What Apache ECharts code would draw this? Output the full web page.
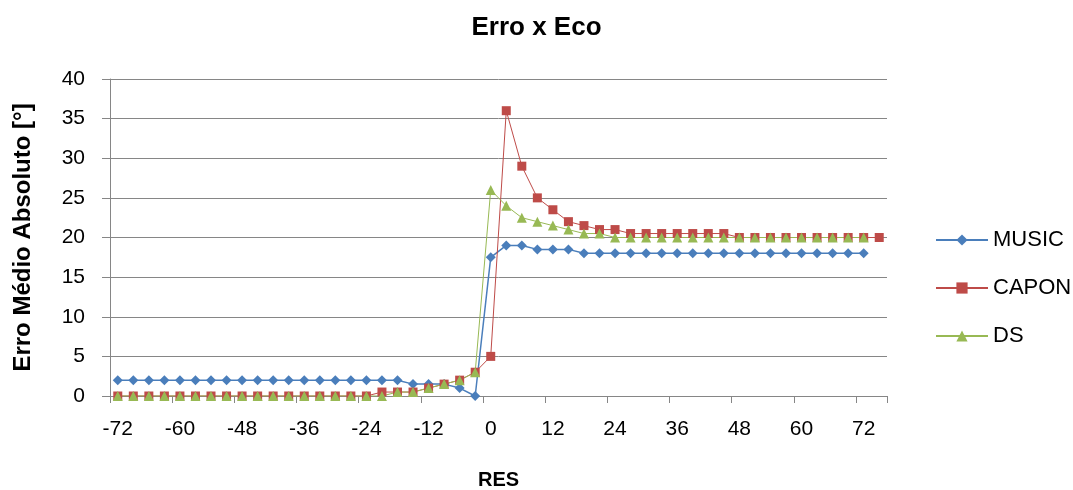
<!DOCTYPE html>
<html>
<head>
<meta charset="utf-8">
<script src="https://cdn.jsdelivr.net/npm/echarts@6/dist/echarts.min.js"></script>
<style>
html,body{margin:0;padding:0;background:#fff;}
#chart{width:1073px;height:490px;}
</style>
</head>
<body>
<div id="chart"></div>
<script>
var categories = [-72,-69,-66,-63,-60,-57,-54,-51,-48,-45,-42,-39,-36,-33,-30,-27,-24,-21,-18,-15,-12,-9,-6,-3,0,3,6,9,12,15,18,21,24,27,30,33,36,39,42,45,48,51,54,57,60,63,66,69,72,75];
var music = [2,2,2,2,2,2,2,2,2,2,2,2,2,2,2,2,2,2,2,1.5,1.5,1.5,1,0,17.5,19,19,18.5,18.5,18.5,18,18,18,18,18,18,18,18,18,18,18,18,18,18,18,18,18,18,18,null];
var capon = [0,0,0,0,0,0,0,0,0,0,0,0,0,0,0,0,0,0.5,0.5,0.5,1,1.5,2,3,5,36,29,25,23.5,22,21.5,21,21,20.5,20.5,20.5,20.5,20.5,20.5,20.5,20,20,20,20,20,20,20,20,20,20];
var ds = [0,0,0,0,0,0,0,0,0,0,0,0,0,0,0,0,0,0,0.5,0.5,1,1.5,2,3,26,24,22.5,22,21.5,21,20.5,20.5,20,20,20,20,20,20,20,20,20,20,20,20,20,20,20,20,20,null];
var yTicks = {min:0, max:40, interval:5};

var font = '"Liberation Sans", "Open Sans", sans-serif';
var chart = echarts.init(document.getElementById('chart'), null, {renderer:'canvas'});
chart.setOption({
  animation:false,
  backgroundColor:'#fff',
  title:{text:'Erro x Eco', left:'center', top:10, textStyle:{fontFamily:font, fontSize:26, fontWeight:'bold', color:'#000'}},
  grid:{left:110, right:186, top:79, bottom:94, containLabel:false, outerBoundsMode:'none'},
  legend:{
    orient:'vertical', left:930, top:224, itemGap:26, itemWidth:52, itemHeight:14,
    textStyle:{fontFamily:font, fontSize:22, lineHeight:22, color:'#000'},
    data:['MUSIC','CAPON','DS']
  },
  xAxis:{
    type:'category', data:categories, boundaryGap:true,
    name:'RES', nameLocation:'middle', nameGap:74,
    nameTextStyle:{fontFamily:font, fontSize:20, fontWeight:'bold', color:'#000'},
    axisLine:{lineStyle:{color:'#868686', width:1}},
    axisTick:{show:true, interval:3, alignWithLabel:false, length:7, lineStyle:{color:'#868686'}},
    axisLabel:{interval:3, fontFamily:font, fontSize:21, color:'#000', margin:23},
    splitLine:{show:false}
  },
  yAxis:{
    type:'value', min:yTicks.min, max:yTicks.max, interval:yTicks.interval,
    name:'Erro Médio Absoluto [°]', nameLocation:'middle', nameGap:75, nameRotate:90,
    nameTextStyle:{fontFamily:font, fontSize:24, fontWeight:'bold', color:'#000'},
    axisLine:{show:true, lineStyle:{color:'#868686', width:1}},
    axisTick:{show:true, length:8, lineStyle:{color:'#868686'}},
    axisLabel:{fontFamily:font, fontSize:21, color:'#000', margin:25},
    splitLine:{show:true, lineStyle:{color:'#868686', width:1}}
  },
  series:[
    {name:'MUSIC', type:'line', data:music, symbol:'diamond', symbolSize:10, showAllSymbol:true,
     itemStyle:{color:'#4A7EBB'}, lineStyle:{color:'#4A7EBB', width:1.5}, connectNulls:false},
    {name:'CAPON', type:'line', data:capon, symbol:'rect', symbolSize:9, showAllSymbol:true,
     itemStyle:{color:'#BE4B48'}, lineStyle:{color:'#BE4B48', width:1}},
    {name:'DS', type:'line', data:ds, symbol:'triangle', symbolSize:10, showAllSymbol:true,
     itemStyle:{color:'#98B954'}, lineStyle:{color:'#98B954', width:1}}
  ]
});
</script>
</body>
</html>
